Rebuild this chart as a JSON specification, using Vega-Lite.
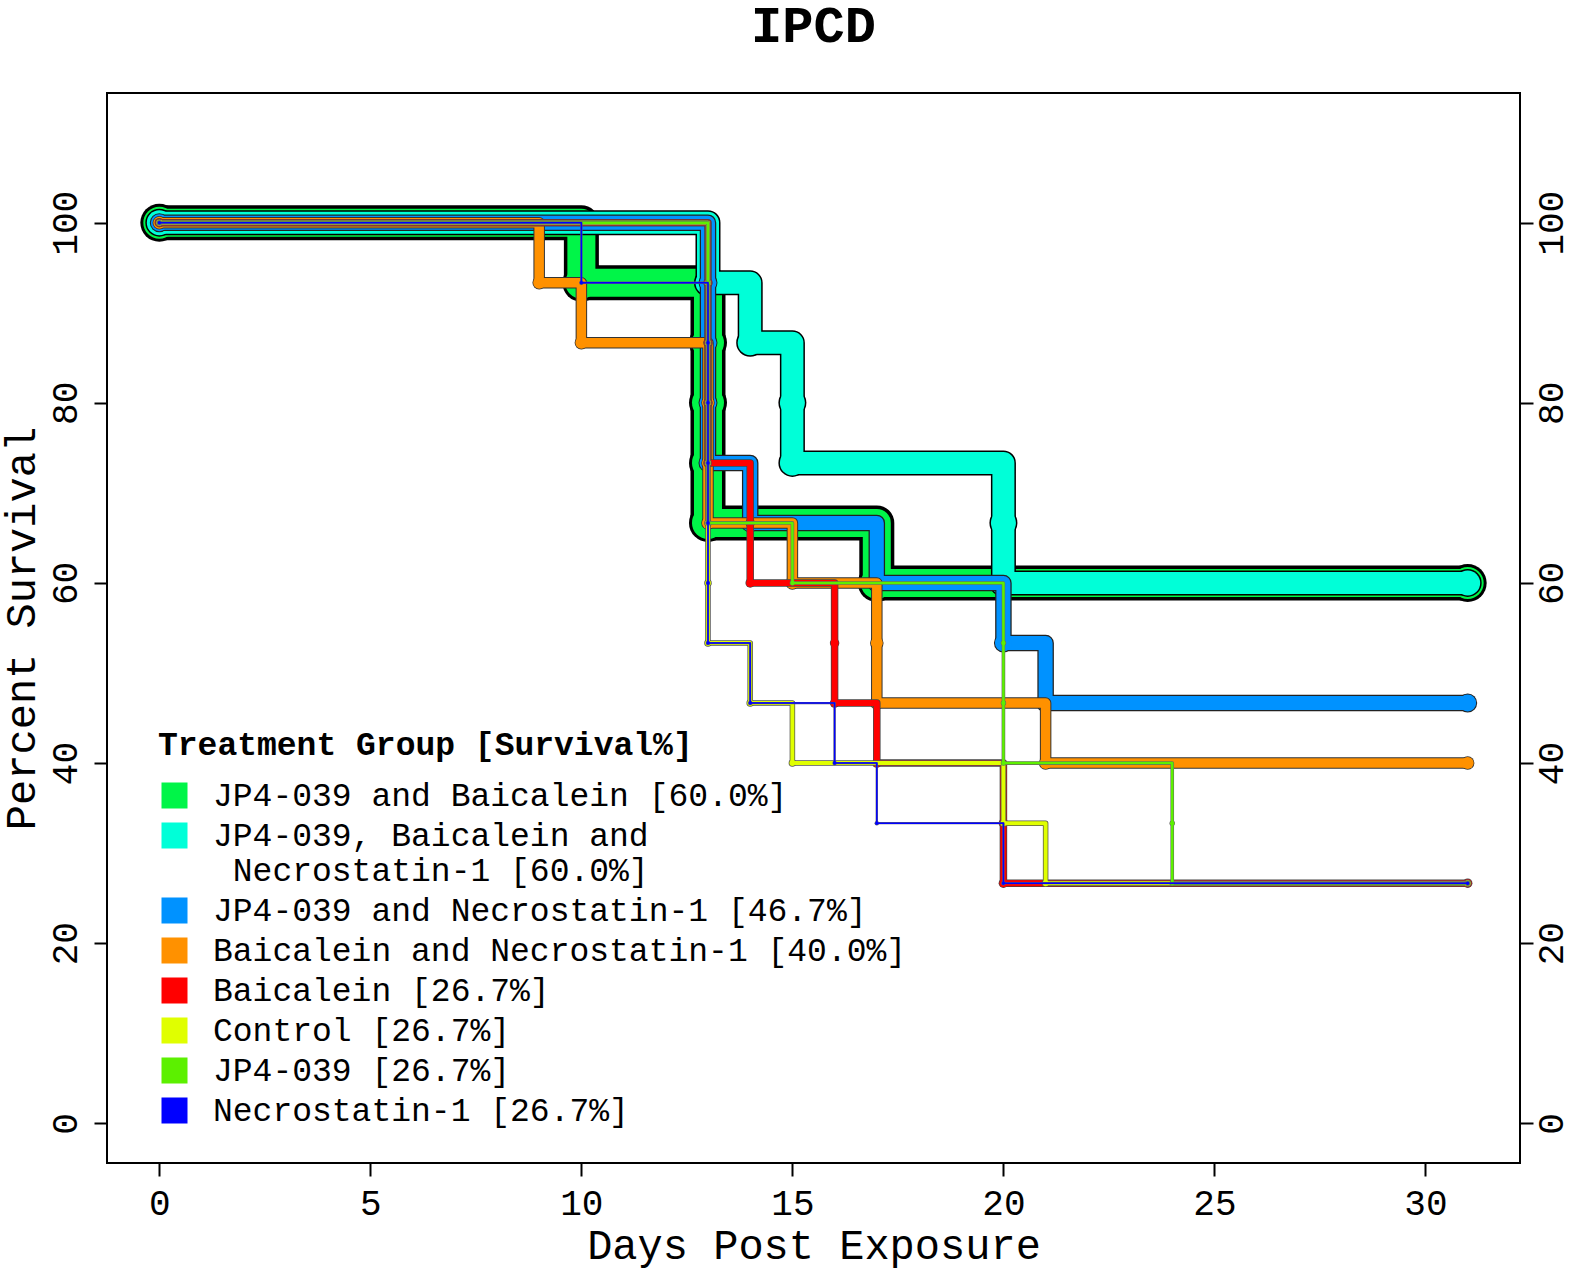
{
  "$schema": "https://vega.github.io/schema/vega-lite/v6.json",
  "width": 1413,
  "height": 1070,
  "autosize": {"type": "none"},
  "padding": {"left": 107, "top": 93, "right": 55, "bottom": 108},
  "background": "white",
  "title": {"text": "IPCD", "font": "Liberation Mono", "fontSize": 52, "fontWeight": "bold", "color": "black", "anchor": "middle", "offset": 40},
  "config": {
    "view": {"stroke": "black", "strokeWidth": 2},
    "axis": {"domain": false, "grid": false, "ticks": true, "tickColor": "black", "tickWidth": 2, "tickSize": 13,
      "labelFont": "Liberation Mono", "labelFontSize": 36, "labelColor": "black",
      "titleFont": "Liberation Mono", "titleFontSize": 42, "titleFontWeight": "normal", "titleColor": "black"}
  },
  "data": {"values": [
    {"k":1,"g":"JP4-039 and Baicalein [60.0%]","day":0,"surv":100},
    {"k":1,"g":"JP4-039 and Baicalein [60.0%]","day":10,"surv":93.33},
    {"k":1,"g":"JP4-039 and Baicalein [60.0%]","day":13,"surv":86.67},
    {"k":1,"g":"JP4-039 and Baicalein [60.0%]","day":13,"surv":80},
    {"k":1,"g":"JP4-039 and Baicalein [60.0%]","day":13,"surv":73.33},
    {"k":1,"g":"JP4-039 and Baicalein [60.0%]","day":13,"surv":66.67},
    {"k":1,"g":"JP4-039 and Baicalein [60.0%]","day":17,"surv":60},
    {"k":1,"g":"JP4-039 and Baicalein [60.0%]","day":31,"surv":60},
    {"k":2,"g":"JP4-039, Baicalein and Necrostatin-1 [60.0%]","day":0,"surv":100},
    {"k":2,"g":"JP4-039, Baicalein and Necrostatin-1 [60.0%]","day":13,"surv":93.33},
    {"k":2,"g":"JP4-039, Baicalein and Necrostatin-1 [60.0%]","day":14,"surv":86.67},
    {"k":2,"g":"JP4-039, Baicalein and Necrostatin-1 [60.0%]","day":15,"surv":80},
    {"k":2,"g":"JP4-039, Baicalein and Necrostatin-1 [60.0%]","day":15,"surv":73.33},
    {"k":2,"g":"JP4-039, Baicalein and Necrostatin-1 [60.0%]","day":20,"surv":66.67},
    {"k":2,"g":"JP4-039, Baicalein and Necrostatin-1 [60.0%]","day":20,"surv":60},
    {"k":2,"g":"JP4-039, Baicalein and Necrostatin-1 [60.0%]","day":31,"surv":60},
    {"k":3,"g":"JP4-039 and Necrostatin-1 [46.7%]","day":0,"surv":100},
    {"k":3,"g":"JP4-039 and Necrostatin-1 [46.7%]","day":13,"surv":93.33},
    {"k":3,"g":"JP4-039 and Necrostatin-1 [46.7%]","day":13,"surv":86.67},
    {"k":3,"g":"JP4-039 and Necrostatin-1 [46.7%]","day":13,"surv":80},
    {"k":3,"g":"JP4-039 and Necrostatin-1 [46.7%]","day":13,"surv":73.33},
    {"k":3,"g":"JP4-039 and Necrostatin-1 [46.7%]","day":14,"surv":66.67},
    {"k":3,"g":"JP4-039 and Necrostatin-1 [46.7%]","day":17,"surv":60},
    {"k":3,"g":"JP4-039 and Necrostatin-1 [46.7%]","day":20,"surv":53.33},
    {"k":3,"g":"JP4-039 and Necrostatin-1 [46.7%]","day":21,"surv":46.67},
    {"k":3,"g":"JP4-039 and Necrostatin-1 [46.7%]","day":31,"surv":46.67},
    {"k":4,"g":"Baicalein and Necrostatin-1 [40.0%]","day":0,"surv":100},
    {"k":4,"g":"Baicalein and Necrostatin-1 [40.0%]","day":9,"surv":93.33},
    {"k":4,"g":"Baicalein and Necrostatin-1 [40.0%]","day":10,"surv":86.67},
    {"k":4,"g":"Baicalein and Necrostatin-1 [40.0%]","day":13,"surv":80},
    {"k":4,"g":"Baicalein and Necrostatin-1 [40.0%]","day":13,"surv":73.33},
    {"k":4,"g":"Baicalein and Necrostatin-1 [40.0%]","day":13,"surv":66.67},
    {"k":4,"g":"Baicalein and Necrostatin-1 [40.0%]","day":15,"surv":60},
    {"k":4,"g":"Baicalein and Necrostatin-1 [40.0%]","day":17,"surv":53.33},
    {"k":4,"g":"Baicalein and Necrostatin-1 [40.0%]","day":17,"surv":46.67},
    {"k":4,"g":"Baicalein and Necrostatin-1 [40.0%]","day":21,"surv":40},
    {"k":4,"g":"Baicalein and Necrostatin-1 [40.0%]","day":31,"surv":40},
    {"k":5,"g":"Baicalein [26.7%]","day":0,"surv":100},
    {"k":5,"g":"Baicalein [26.7%]","day":13,"surv":93.33},
    {"k":5,"g":"Baicalein [26.7%]","day":13,"surv":86.67},
    {"k":5,"g":"Baicalein [26.7%]","day":13,"surv":80},
    {"k":5,"g":"Baicalein [26.7%]","day":13,"surv":73.33},
    {"k":5,"g":"Baicalein [26.7%]","day":14,"surv":66.67},
    {"k":5,"g":"Baicalein [26.7%]","day":14,"surv":60},
    {"k":5,"g":"Baicalein [26.7%]","day":16,"surv":53.33},
    {"k":5,"g":"Baicalein [26.7%]","day":16,"surv":46.67},
    {"k":5,"g":"Baicalein [26.7%]","day":17,"surv":40},
    {"k":5,"g":"Baicalein [26.7%]","day":20,"surv":33.33},
    {"k":5,"g":"Baicalein [26.7%]","day":20,"surv":26.67},
    {"k":5,"g":"Baicalein [26.7%]","day":31,"surv":26.67},
    {"k":6,"g":"Control [26.7%]","day":0,"surv":100},
    {"k":6,"g":"Control [26.7%]","day":13,"surv":93.33},
    {"k":6,"g":"Control [26.7%]","day":13,"surv":86.67},
    {"k":6,"g":"Control [26.7%]","day":13,"surv":80},
    {"k":6,"g":"Control [26.7%]","day":13,"surv":73.33},
    {"k":6,"g":"Control [26.7%]","day":13,"surv":66.67},
    {"k":6,"g":"Control [26.7%]","day":13,"surv":60},
    {"k":6,"g":"Control [26.7%]","day":13,"surv":53.33},
    {"k":6,"g":"Control [26.7%]","day":14,"surv":46.67},
    {"k":6,"g":"Control [26.7%]","day":15,"surv":40},
    {"k":6,"g":"Control [26.7%]","day":20,"surv":33.33},
    {"k":6,"g":"Control [26.7%]","day":21,"surv":26.67},
    {"k":6,"g":"Control [26.7%]","day":31,"surv":26.67},
    {"k":7,"g":"JP4-039 [26.7%]","day":0,"surv":100},
    {"k":7,"g":"JP4-039 [26.7%]","day":13,"surv":93.33},
    {"k":7,"g":"JP4-039 [26.7%]","day":13,"surv":86.67},
    {"k":7,"g":"JP4-039 [26.7%]","day":13,"surv":80},
    {"k":7,"g":"JP4-039 [26.7%]","day":13,"surv":73.33},
    {"k":7,"g":"JP4-039 [26.7%]","day":13,"surv":66.67},
    {"k":7,"g":"JP4-039 [26.7%]","day":15,"surv":60},
    {"k":7,"g":"JP4-039 [26.7%]","day":20,"surv":53.33},
    {"k":7,"g":"JP4-039 [26.7%]","day":20,"surv":46.67},
    {"k":7,"g":"JP4-039 [26.7%]","day":20,"surv":40},
    {"k":7,"g":"JP4-039 [26.7%]","day":24,"surv":33.33},
    {"k":7,"g":"JP4-039 [26.7%]","day":24,"surv":26.67},
    {"k":7,"g":"JP4-039 [26.7%]","day":31,"surv":26.67},
    {"k":8,"g":"Necrostatin-1 [26.7%]","day":0,"surv":100},
    {"k":8,"g":"Necrostatin-1 [26.7%]","day":10,"surv":93.33},
    {"k":8,"g":"Necrostatin-1 [26.7%]","day":13,"surv":86.67},
    {"k":8,"g":"Necrostatin-1 [26.7%]","day":13,"surv":80},
    {"k":8,"g":"Necrostatin-1 [26.7%]","day":13,"surv":73.33},
    {"k":8,"g":"Necrostatin-1 [26.7%]","day":13,"surv":66.67},
    {"k":8,"g":"Necrostatin-1 [26.7%]","day":13,"surv":60},
    {"k":8,"g":"Necrostatin-1 [26.7%]","day":13,"surv":53.33},
    {"k":8,"g":"Necrostatin-1 [26.7%]","day":14,"surv":46.67},
    {"k":8,"g":"Necrostatin-1 [26.7%]","day":16,"surv":40},
    {"k":8,"g":"Necrostatin-1 [26.7%]","day":17,"surv":33.33},
    {"k":8,"g":"Necrostatin-1 [26.7%]","day":20,"surv":26.67},
    {"k":8,"g":"Necrostatin-1 [26.7%]","day":31,"surv":26.67}
  ]},
  "resolve": {"axis": {"y": "independent"}},
  "layer": [
    {
      "encoding": {
        "x": {"field": "day", "type": "quantitative", "scale": {"domain": [-1.24, 32.24], "nice": false, "zero": false},
          "axis": {"values": [0,5,10,15,20,25,30], "title": "Days Post Exposure", "labelPadding": 10, "titleBaseline": "alphabetic", "titleY": 95}},
        "y": {"field": "surv", "type": "quantitative", "scale": {"domain": [-4.4, 114.4], "nice": false, "zero": false},
          "axis": {"values": [0,20,40,60,80,100], "title": "Percent Survival", "labelAngle": 270, "labelAlign": "center", "labelBaseline": "bottom", "labelPadding": 10, "titleAngle": 270, "titleBaseline": "alphabetic", "titleX": -73}},
        "order": [{"field": "day", "type": "quantitative"}, {"field": "surv", "type": "quantitative", "sort": "descending"}],
        "color": {"field": "g", "type": "nominal",
          "scale": {"domain": ["JP4-039 and Baicalein [60.0%]", "JP4-039, Baicalein and Necrostatin-1 [60.0%]", "JP4-039 and Necrostatin-1 [46.7%]", "Baicalein and Necrostatin-1 [40.0%]", "Baicalein [26.7%]", "Control [26.7%]", "JP4-039 [26.7%]", "Necrostatin-1 [26.7%]"],
            "range": ["#00F548", "#00FFD8", "#0092FF", "#FF9100", "#FF0000", "#E0FF00", "#5CF000", "#0000FF"]},
          "legend": {
            "title": "Treatment Group [Survival%]",
            "orient": "none", "legendX": 51, "legendY": 636, "direction": "vertical", "padding": 0,
            "titleFont": "Liberation Mono", "titleFontSize": 33, "titleFontWeight": "bold", "titleColor": "black", "titlePadding": 17, "titleLimit": 1000,
            "labelFont": "Liberation Mono", "labelFontSize": 33, "labelColor": "black", "labelLimit": 1000, "labelOffset": 22,
            "symbolType": "square", "symbolSize": 576, "symbolStrokeWidth": 2, "symbolStrokeColor": "black", "symbolOpacity": 1,
            "rowPadding": 6,
            "labelExpr": "datum.label == 'JP4-039, Baicalein and Necrostatin-1 [60.0%]' ? ['JP4-039, Baicalein and', '\u200b Necrostatin-1 [60.0%]'] : datum.label",
            "encode": {"symbols": {"update": {"fill": {"scale": "color", "field": "value"}, "fillOpacity": {"value": 1}, "stroke": {"value": "black"}, "strokeWidth": {"value": 2}, "strokeOpacity": {"value": 1}, "opacity": {"value": 1}}}}
          }}
      },
      "layer": [
        {"transform": [{"filter": {"field": "k", "equal": 1}}], "mark": {"type": "line", "interpolate": "step-after", "strokeWidth": 35, "strokeCap": "round", "strokeJoin": "round", "point": {"filled": true, "size": 1444}}, "encoding": {"color": {"value": "black"}}},
        {"transform": [{"filter": {"field": "k", "equal": 1}}], "mark": {"type": "line", "interpolate": "step-after", "strokeWidth": 28, "strokeCap": "round", "strokeJoin": "round", "point": {"filled": true, "size": 1024}}},
        {"transform": [{"filter": {"field": "k", "equal": 2}}], "mark": {"type": "line", "interpolate": "step-after", "strokeWidth": 25, "strokeCap": "round", "strokeJoin": "round", "point": {"filled": true, "size": 784}}, "encoding": {"color": {"value": "black"}}},
        {"transform": [{"filter": {"field": "k", "equal": 2}}], "mark": {"type": "line", "interpolate": "step-after", "strokeWidth": 22, "strokeCap": "round", "strokeJoin": "round", "point": {"filled": true, "size": 625}}},
        {"transform": [{"filter": {"field": "k", "equal": 3}}], "mark": {"type": "line", "interpolate": "step-after", "strokeWidth": 16.5, "strokeCap": "round", "strokeJoin": "round", "point": {"filled": true, "size": 361}}, "encoding": {"color": {"value": "#222"}}},
        {"transform": [{"filter": {"field": "k", "equal": 3}}], "mark": {"type": "line", "interpolate": "step-after", "strokeWidth": 14, "strokeCap": "round", "strokeJoin": "round", "point": {"filled": true, "size": 289}}},
        {"transform": [{"filter": {"field": "k", "equal": 4}}], "mark": {"type": "line", "interpolate": "step-after", "strokeWidth": 11.5, "strokeCap": "round", "strokeJoin": "round", "point": {"filled": true, "size": 182}}, "encoding": {"color": {"value": "#333"}}},
        {"transform": [{"filter": {"field": "k", "equal": 4}}], "mark": {"type": "line", "interpolate": "step-after", "strokeWidth": 9.5, "strokeCap": "round", "strokeJoin": "round", "point": {"filled": true, "size": 144}}},
        {"transform": [{"filter": {"field": "k", "equal": 5}}], "mark": {"type": "line", "interpolate": "step-after", "strokeWidth": 7.5, "strokeCap": "round", "strokeJoin": "round", "point": {"filled": true, "size": 90}}, "encoding": {"color": {"value": "#444"}}},
        {"transform": [{"filter": {"field": "k", "equal": 5}}], "mark": {"type": "line", "interpolate": "step-after", "strokeWidth": 6, "strokeCap": "round", "strokeJoin": "round", "point": {"filled": true, "size": 64}}},
        {"transform": [{"filter": {"field": "k", "equal": 6}}], "mark": {"type": "line", "interpolate": "step-after", "strokeWidth": 5.5, "strokeCap": "round", "strokeJoin": "round", "point": {"filled": true, "size": 56}}, "encoding": {"color": {"value": "#555"}}},
        {"transform": [{"filter": {"field": "k", "equal": 6}}], "mark": {"type": "line", "interpolate": "step-after", "strokeWidth": 4, "strokeCap": "round", "strokeJoin": "round", "point": {"filled": true, "size": 36}}},
        {"transform": [{"filter": {"field": "k", "equal": 7}}], "mark": {"type": "line", "interpolate": "step-after", "strokeWidth": 3.6, "strokeCap": "round", "strokeJoin": "round", "point": {"filled": true, "size": 30}}, "encoding": {"color": {"value": "#666"}}},
        {"transform": [{"filter": {"field": "k", "equal": 7}}], "mark": {"type": "line", "interpolate": "step-after", "strokeWidth": 2.5, "strokeCap": "round", "strokeJoin": "round", "point": {"filled": true, "size": 20}}},
        {"transform": [{"filter": {"field": "k", "equal": 8}}], "mark": {"type": "line", "interpolate": "step-after", "strokeWidth": 2.3, "strokeCap": "round", "strokeJoin": "round", "point": {"filled": true, "size": 20}}, "encoding": {"color": {"value": "#666"}}},
        {"transform": [{"filter": {"field": "k", "equal": 8}}], "mark": {"type": "line", "interpolate": "step-after", "strokeWidth": 1.5, "strokeCap": "round", "strokeJoin": "round", "point": {"filled": true, "size": 12}}}
      ]
    },
    {
      "mark": {"type": "point", "opacity": 0},
      "encoding": {
        "x": {"field": "day", "type": "quantitative", "scale": {"domain": [-1.24, 32.24], "nice": false, "zero": false},
          "axis": {"values": [0,5,10,15,20,25,30], "title": "Days Post Exposure", "labelPadding": 10, "titleBaseline": "alphabetic", "titleY": 95}},
        "y": {"field": "surv", "type": "quantitative", "scale": {"domain": [-4.4, 114.4], "nice": false, "zero": false},
          "axis": {"orient": "right", "values": [0,20,40,60,80,100], "title": null, "labelAngle": 270, "labelAlign": "center", "labelBaseline": "top", "labelPadding": 1, "labelFontSize": 36}}
      }
    }
  ]
}
